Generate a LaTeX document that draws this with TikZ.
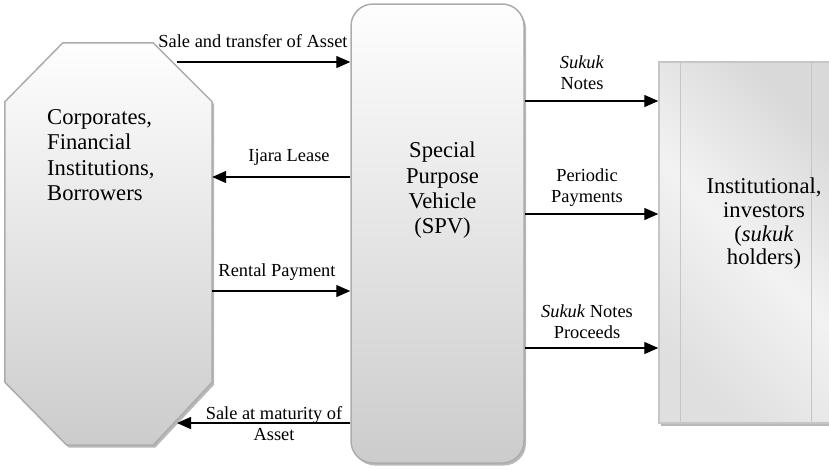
\documentclass[tikz,border=0pt]{standalone}
\usepackage{fontspec}
\setmainfont{Liberation Serif}
\usetikzlibrary{arrows.meta,shadows}
\begin{document}
\begin{tikzpicture}[x=1pt,y=-1pt,
  flow/.style={line width=1.4pt,-{Triangle[length=14pt,width=12pt]}},
  lbl/.style={font=\fontsize{18.4}{21}\selectfont,inner sep=0pt,align=center},
  big/.style={font=\fontsize{22.6}{25.2}\selectfont,inner sep=0pt},
  shade1/.style={drop shadow={shadow xshift=2pt,shadow yshift=-2.5pt,fill=gray!55,opacity=1}},
  panel/.style={draw=gray!65,line width=1.5pt,top color=gray!1,bottom color=gray!40,shade1}]
\useasboundingbox (0,0) rectangle (829,469);
\node[minimum width=207pt,minimum height=402pt,inner sep=0pt] (corp) at (108.5,244) {};
\path[panel] ([yshift=-59pt]corp.north west) -- ([xshift=58pt]corp.north west)
  -- ([xshift=-59pt]corp.north east) -- ([yshift=-59pt]corp.north east)
  -- ([yshift=63pt]corp.south east) -- ([xshift=-59pt]corp.south east)
  -- ([xshift=62pt]corp.south west) -- ([yshift=63pt]corp.south west) -- cycle;
\node[big,align=left,anchor=north west,font=\fontsize{22.6}{25.6}\selectfont] (corptext) at (47,109) {Corporates,\\Financial\\Institutions,\\Borrowers};
\node[panel,rounded corners=22pt,minimum width=173pt,minimum height=459pt] (spv) at (437.5,233.5) {};
\node[big,align=center,anchor=north] (spvtext) at (442.5,142) {Special\\Purpose\\Vehicle\\(SPV)};
\node[draw=gray!45,line width=1.5pt,left color=gray!25,right color=gray!30,middle color=gray!10,
  shading angle=135,shade1,minimum width=173pt,minimum height=361pt] (inv) at (745.5,242.5) {};
\draw[gray!45,line width=1.5pt] ([xshift=22pt]inv.north west) -- ([xshift=22pt]inv.south west);
\draw[gray!45,line width=1.5pt] ([xshift=153pt]inv.north west) -- ([xshift=153pt]inv.south west);
\node[big,align=center,anchor=north,font=\fontsize{22.6}{23.6}\selectfont] (invtext) at (764,178) {Institutional,\\investors\\(\textit{sukuk}\\holders)};
\coordinate (saleS) at (177,62);
\coordinate (matT) at (177,423);
\draw[flow] (saleS) -- (spv.west |- saleS);
\draw[flow] (spv.west |- 0,177) -- (corp.east |- 0,177);
\draw[flow] (corp.east |- 0,291) -- (spv.west |- 0,291);
\draw[flow] (spv.west |- matT) -- (matT);
\draw[flow] (spv.east |- 0,101) -- (inv.west |- 0,101);
\draw[flow] (spv.east |- 0,214) -- (inv.west |- 0,214);
\draw[flow] (spv.east |- 0,348) -- (inv.west |- 0,348);
\node[lbl] (salelbl) at (253,41) {Sale and transfer of Asset};
\node[lbl] (ijaralbl) at (289,157) {Ijara Lease};
\node[lbl] (rentlbl) at (277,272) {Rental Payment};
\node[lbl] (matlbl) at (274,424) {Sale at maturity of\\Asset};
\node[lbl] (noteslbl) at (582,73) {\textit{Sukuk}\\Notes};
\node[lbl] (paylbl) at (587,188) {Periodic\\Payments};
\node[lbl] (proclbl) at (587,322) {\textit{Sukuk} Notes\\Proceeds};
\end{tikzpicture}
\end{document}
